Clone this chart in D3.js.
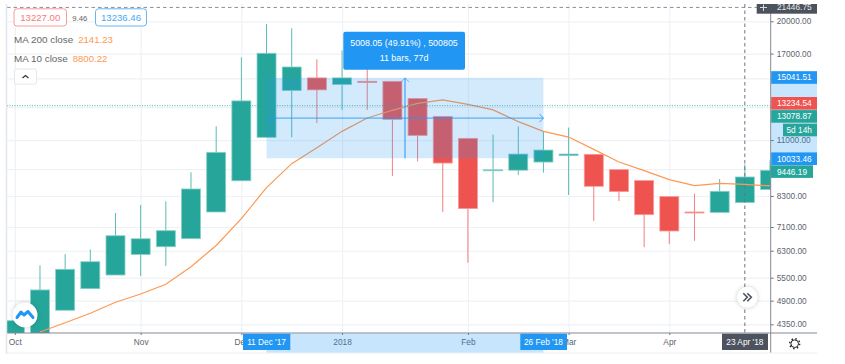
<!DOCTYPE html>
<html>
<head>
<meta charset="utf-8">
<script src="https://cdn.jsdelivr.net/npm/d3@7"></script>
<style>
	body {margin:0; background:#fff;}
	text {font-family:"Liberation Sans",Arial,sans-serif;}
	.domain {display:none;}
</style>
</head>
<body>
<script>
//weekly candles
var weeks = ["2017-10-02","2017-10-09","2017-10-16","2017-10-23","2017-10-30","2017-11-06","2017-11-13","2017-11-20","2017-11-27","2017-12-04","2017-12-11","2017-12-18","2017-12-25","2018-01-01","2018-01-08","2018-01-15","2018-01-22","2018-01-29","2018-02-05","2018-02-12","2018-02-19","2018-02-26","2018-03-05","2018-03-12","2018-03-19","2018-03-26","2018-04-02","2018-04-09","2018-04-16","2018-04-23","2018-04-30"];
var opens = [4100,4130,4669,5204,5575,6184,6428,6694,7657,8960,11151,14110,15041,14542,14786,14786,13553,12394,11094,9459,9450,9846,10169,10236,9477,8969,8275,7657,7642,8029,8572];
var closes = [4430,5171,5738,5961,6794,6692,6969,8598,10339,13396,17026,15890,14159,15041,14700,12208,11261,9797,7790,9470,10251,10460,10251,8715,8486,7554,6959,7650,8498,9133,9446.19];
var highs = [4430,5854,6193,6341,7618,7932,8081,9352,11786,16687,19729,19307,16519,17283,15948,14786,13553,12394,11094,11302,11786,11510,11708,10236,9477,8969,8275,8400,9042,9734,9932];
var lows = [4100,4130,4669,5204,5575,5547,5834,6694,7657,8960,11151,11151,11983,12802,12802,9179,9881,7657,5930,8042,9226,9338,8342,7318,8094,6414,6513,6622,7642,8029,8572];
var ma10 = [null,4185,4385,4599,4861,5068,5320,5813,6470,7403,8659,9767,10587,11492,12289,12777,13234,13463,13169,12802,12068,11492,11167,10497,9846,9429,9014,8746,8848,8800.22,8730];

var priceTicks = [20000,17000,15000,13000,11000,9500,8300,7100,6300,5500,4900,4350];
var hiddenTicks = [15000,13000,9500]; //these sit under the price tags
var timeTicks = ["2017-10-02","2017-11-06","2017-12-04","2018-01-01","2018-02-05","2018-03-05","2018-04-02"];
var timeTickLabels = ["Oct","Nov","Dec","2018","Feb","Mar","Apr"];

var rangeHigh = 15041.51, rangeLow = 10033.46;
var rangeStart = "2017-12-11", rangeEnd = "2018-02-26";
var crossPrice = 21446.75, crossWeek = "2018-04-23";
var lastPrice = 13078.87, askPrice = 13234.54, closePrice = 9446.19;

var green = '#26a69a', red = '#ef5350', blue = '#2196f3', dark = '#4c525e', orange = '#ff9850';
var paneL = 7, paneR = 770.7, paneT = 4, paneB = 333, axisR = 817, axisB = 353;

var parseDay = d3.utcParse("%Y-%m-%d");
var dates = weeks.map(parseDay);

var x = d3.scaleUtc().domain([dates[0],dates[30]]).range([14.8,770]);
var y = d3.scaleLog().domain([4350,20000]).range([324.3,21.3]);

var svg = d3.select('body').append('svg')
	.attr('width',845)
	.attr('height',364)
	.style('display','block');

svg.append('clipPath').attr('id','pane')
	.append('rect').attr('x',paneL).attr('y',paneT).attr('width',paneR-paneL).attr('height',paneB-paneT);

//grid
var xGrid = d3.axisBottom(x).tickValues(timeTicks.map(parseDay)).tickSize(-(paneB-paneT)).tickFormat('');
svg.append('g').attr('class','grid').attr('transform','translate(0,'+paneB+')').call(xGrid);
var yGrid = d3.axisLeft(y).tickValues(priceTicks).tickSize(-(paneR-paneL)).tickFormat('');
svg.append('g').attr('class','grid').attr('transform','translate('+paneL+',0)').call(yGrid);
svg.selectAll('.grid line').style('stroke','#eef2f6').style('stroke-width',1.2);

//candles
var plot = svg.append('g').attr('clip-path','url(#pane)');
var bodyW = 19;

plot.selectAll('.wick')
	.data(dates).enter()
	.append('line')
		.attr('class','wick')
		.attr('x1',function(d){ return x(d); })
		.attr('x2',function(d){ return x(d); })
		.attr('y1',function(d,i){ return y(highs[i]); })
		.attr('y2',function(d,i){ return y(lows[i]); })
		.style('stroke',function(d,i){ return closes[i]>=opens[i] ? green : red; })
		.style('stroke-opacity',0.75)
		.style('stroke-width',1);

plot.selectAll('.body')
	.data(dates).enter()
	.append('rect')
		.attr('class','body')
		.attr('x',function(d){ return x(d)-bodyW/2; })
		.attr('width',bodyW)
		.attr('y',function(d,i){ return y(Math.max(opens[i],closes[i])); })
		.attr('height',function(d,i){ return Math.max(1,Math.abs(y(opens[i])-y(closes[i]))); })
		.style('fill',function(d,i){ return closes[i]>=opens[i] ? green : red; })
		.style('stroke',function(d,i){ return closes[i]>=opens[i] ? '#8ad0c9' : '#f79a98'; })
		.style('stroke-width',0.8);

//moving average
var maLine = d3.line()
	.defined(function(d){ return d!=null; })
	.x(function(d,i){ return x(dates[i]); })
	.y(function(d){ return y(d); });

plot.append('path')
	.attr('d',maLine(ma10))
	.attr('fill','none')
	.attr('stroke',orange)
	.attr('stroke-width',1.2);

//last price dotted line
svg.append('line')
	.attr('x1',paneL).attr('x2',paneR)
	.attr('y1',y(lastPrice)).attr('y2',y(lastPrice))
	.style('stroke',green).style('stroke-width',0.8).style('stroke-dasharray','1,1.5');

//measure tool
var rx0 = x(parseDay(rangeStart)), rx1 = x(parseDay(rangeEnd));
var ry0 = y(rangeHigh), ry1 = y(rangeLow);
var ryMid = (ry0+ry1)/2, rxMid = (rx0+rx1)/2;

svg.append('rect')
	.attr('x',rx0).attr('y',ry0)
	.attr('width',rx1-rx0).attr('height',ry1-ry0)
	.style('fill',blue).style('fill-opacity',0.2);
svg.append('line').attr('x1',rx0).attr('x2',rx1).attr('y1',ryMid).attr('y2',ryMid)
	.style('stroke',blue).style('stroke-width',1).style('stroke-opacity',0.85);
svg.append('path').attr('d','M'+(rx1-4)+','+(ryMid-4)+'L'+rx1+','+ryMid+'L'+(rx1-4)+','+(ryMid+4))
	.attr('fill','none').style('stroke',blue).style('stroke-opacity',0.85);
svg.append('line').attr('x1',rxMid).attr('x2',rxMid).attr('y1',ry0).attr('y2',ry1)
	.style('stroke',blue).style('stroke-width',2).style('stroke-opacity',0.5);
svg.append('path').attr('d','M'+(rxMid-4)+','+(ry0+4)+'L'+rxMid+','+ry0+'L'+(rxMid+4)+','+(ry0+4))
	.attr('fill','none').style('stroke',blue).style('stroke-opacity',0.6);

svg.append('rect')
	.attr('x',343.3).attr('y',31.7).attr('width',121.7).attr('height',38).attr('rx',2)
	.style('fill',blue);
svg.append('text').attr('x',404).attr('y',46).attr('text-anchor','middle')
	.style('font-size','8.9px').style('fill','#fff').text('5008.05 (49.91%) , 500805');
svg.append('text').attr('x',404).attr('y',61).attr('text-anchor','middle')
	.style('font-size','8.9px').style('fill','#fff').text('11 bars, 77d');

//crosshair
svg.append('line').attr('x1',paneL).attr('x2',paneR).attr('y1',y(crossPrice)).attr('y2',y(crossPrice))
	.style('stroke','#8a8f9a').style('stroke-width',1).style('stroke-dasharray','3.5,3');
svg.append('line').attr('x1',x(parseDay(crossWeek))).attr('x2',x(parseDay(crossWeek))).attr('y1',paneT).attr('y2',paneB+4)
	.style('stroke','#6d7380').style('stroke-width',1).style('stroke-dasharray','3.5,3');

//axes
var yAxis = d3.axisRight(y).tickValues(priceTicks).tickSize(3).tickPadding(3)
	.tickFormat(function(d){ return hiddenTicks.indexOf(d)>=0 ? '' : d3.format('.2f')(d); });
var yG = svg.append('g').attr('class','axis').attr('transform','translate('+paneR+',0)').call(yAxis);
var xAxis = d3.axisBottom(x).tickValues(timeTicks.map(parseDay)).tickSize(2).tickPadding(4)
	.tickFormat(function(d,i){ return timeTickLabels[i]; });
var xG = svg.append('g').attr('class','axis').attr('transform','translate(0,'+paneB+')').call(xAxis);
svg.selectAll('.axis .tick text').style('font-size','8.3px').style('fill','#5d636e');
svg.selectAll('.axis .tick line').style('stroke','#6d7380');

//frame
svg.append('line').attr('x1',paneL).attr('x2',axisR).attr('y1',paneB).attr('y2',paneB).style('stroke','#858993').style('stroke-width',1);
svg.append('line').attr('x1',paneR).attr('x2',paneR).attr('y1',paneT).attr('y2',axisB).style('stroke','#858993').style('stroke-width',1);
svg.append('line').attr('x1',paneL-0.5).attr('x2',paneL-0.5).attr('y1',paneT).attr('y2',axisB+1).style('stroke','#e3e6ec').style('stroke-width',1.5);
svg.append('line').attr('x1',paneL).attr('x2',axisR).attr('y1',axisB).attr('y2',axisB).style('stroke','#eceef2').style('stroke-width',1);

//range bands on the axes
svg.append('rect').attr('x',paneR+0.5).attr('y',ry0).attr('width',axisR-paneR-0.5).attr('height',ry1-ry0)
	.style('fill',blue).style('fill-opacity',0.25);
svg.append('rect').attr('x',rx0).attr('y',paneB+0.5).attr('width',rx1-rx0).attr('height',axisB-paneB-1)
	.style('fill',blue).style('fill-opacity',0.25);

//tags on the price axis
function priceTag(label,cy,color,x0,x1,tx){
	svg.append('rect').attr('x',x0).attr('y',cy-6.3).attr('width',x1-x0).attr('height',12.6).style('fill',color);
	svg.append('text').attr('x',tx).attr('y',cy+3).style('font-size','8.3px').style('fill','#fff').text(label);
}
var fmt = d3.format('.2f');
priceTag(fmt(rangeHigh),y(rangeHigh)-0.4,blue,paneR+0.5,axisR,777);
priceTag(fmt(rangeLow),y(rangeLow)+0.4,blue,paneR+0.5,axisR,777);
priceTag(fmt(askPrice),y(askPrice),red,paneR+0.5,axisR,777);
priceTag(fmt(lastPrice),116.4,green,paneR+0.5,axisR,777);
priceTag('5d 14h',130,green,783,axisR,786.5);
priceTag(fmt(closePrice),y(closePrice)+1.3,green,paneR,813,777);

//crosshair tag on top is cut by the pane edge
svg.append('rect').attr('x',756.7).attr('y',paneT).attr('width',axisR-756.7).attr('height',9.7).style('fill',dark);
svg.append('text').attr('x',777).attr('y',y(crossPrice)+3).style('font-size','8.3px').style('fill','#e8e9ec').text(fmt(crossPrice));
svg.append('path').attr('d','M760,7.5H767M763.5,4.5V11').style('stroke','#d8dae0').style('stroke-width',1);

//tags on the time axis
function timeTag(label,cx,color,x0,x1){
	svg.append('rect').attr('x',x0).attr('y',paneB+0.7).attr('width',x1-x0).attr('height',16.3).style('fill',color);
	svg.append('text').attr('x',cx).attr('y',345).attr('text-anchor','middle')
		.style('font-size','8.3px').style('fill','#fff').text(label);
}
timeTag("11 Dec '17",rx0,blue,243,290.3);
timeTag("26 Feb '18",rx1,blue,520.3,567);
timeTag("23 Apr '18",x(parseDay(crossWeek)),dark,722,768);

//legend
function priceBox(label,bx,bw,color,textColor){
	svg.append('rect').attr('x',bx).attr('y',8.8).attr('width',bw).attr('height',17.2).attr('rx',3)
		.style('fill','#fff').style('stroke',color).style('stroke-width',1);
	svg.append('text').attr('x',bx+bw/2).attr('y',21.3).attr('text-anchor','middle')
		.style('font-size','9.6px').style('fill',textColor).text(label);
}
priceBox('13227.00',14,52.5,'#f99a98','#f57c7a');
svg.append('text').attr('x',72.2).attr('y',21).style('font-size','7.8px').style('fill','#666').text('9.46');
priceBox('13236.46',95.5,51,'#64b5f6','#4aa8f2');

svg.append('text').attr('x',14).attr('y',43).style('font-size','9.9px').style('fill','#666').text('MA 200 close');
svg.append('text').attr('x',78.2).attr('y',43).style('font-size','9.6px').style('fill',orange).text('2141.23');
svg.append('text').attr('x',14).attr('y',61.5).style('font-size','9.9px').style('fill','#666').text('MA 10 close');
svg.append('text').attr('x',72.7).attr('y',61.5).style('font-size','9.6px').style('fill',orange).text('8800.22');

svg.append('rect').attr('x',14.5).attr('y',69).attr('width',22).attr('height',15.2).attr('rx',2)
	.style('fill','#fff').style('stroke','#e3e6ec');
svg.append('path').attr('d','M22.5,78L25.5,75.5L28.5,78').attr('fill','none').style('stroke','#333').style('stroke-width',1.2);

//logo button
var logo = svg.append('g').attr('transform','translate(25,315)');
logo.append('circle').attr('r',12.5).style('fill','#fff').style('filter','drop-shadow(0 0 2px rgba(0,0,0,0.2))');
logo.append('path').attr('d','M-8,2.5L-4,-3L-1,0L3,-3.5L8,2.5').attr('fill','none').style('stroke',blue).style('stroke-width',3).style('stroke-linejoin','round').style('stroke-linecap','round');

//scroll to latest button
var fwd = svg.append('g').attr('transform','translate(747.3,297.3)');
fwd.append('circle').attr('r',10.5).style('fill','#fff').style('filter','drop-shadow(0 0 2px rgba(0,0,0,0.2))');
fwd.append('path').attr('d','M-4,-4L0,0L-4,4M0,-4L4,0L0,4').attr('fill','none').style('stroke',dark).style('stroke-width',1.6);

//settings gear
var gear = svg.append('g').attr('transform','translate(794.7,343.7)');
gear.append('circle').attr('r',3.8).style('fill','none').style('stroke','#222').style('stroke-width',1);
gear.append('circle').attr('r',5).style('fill','none').style('stroke','#222').style('stroke-width',1.4).style('stroke-dasharray','1.5,2.43');
</script>
</body>
</html>
